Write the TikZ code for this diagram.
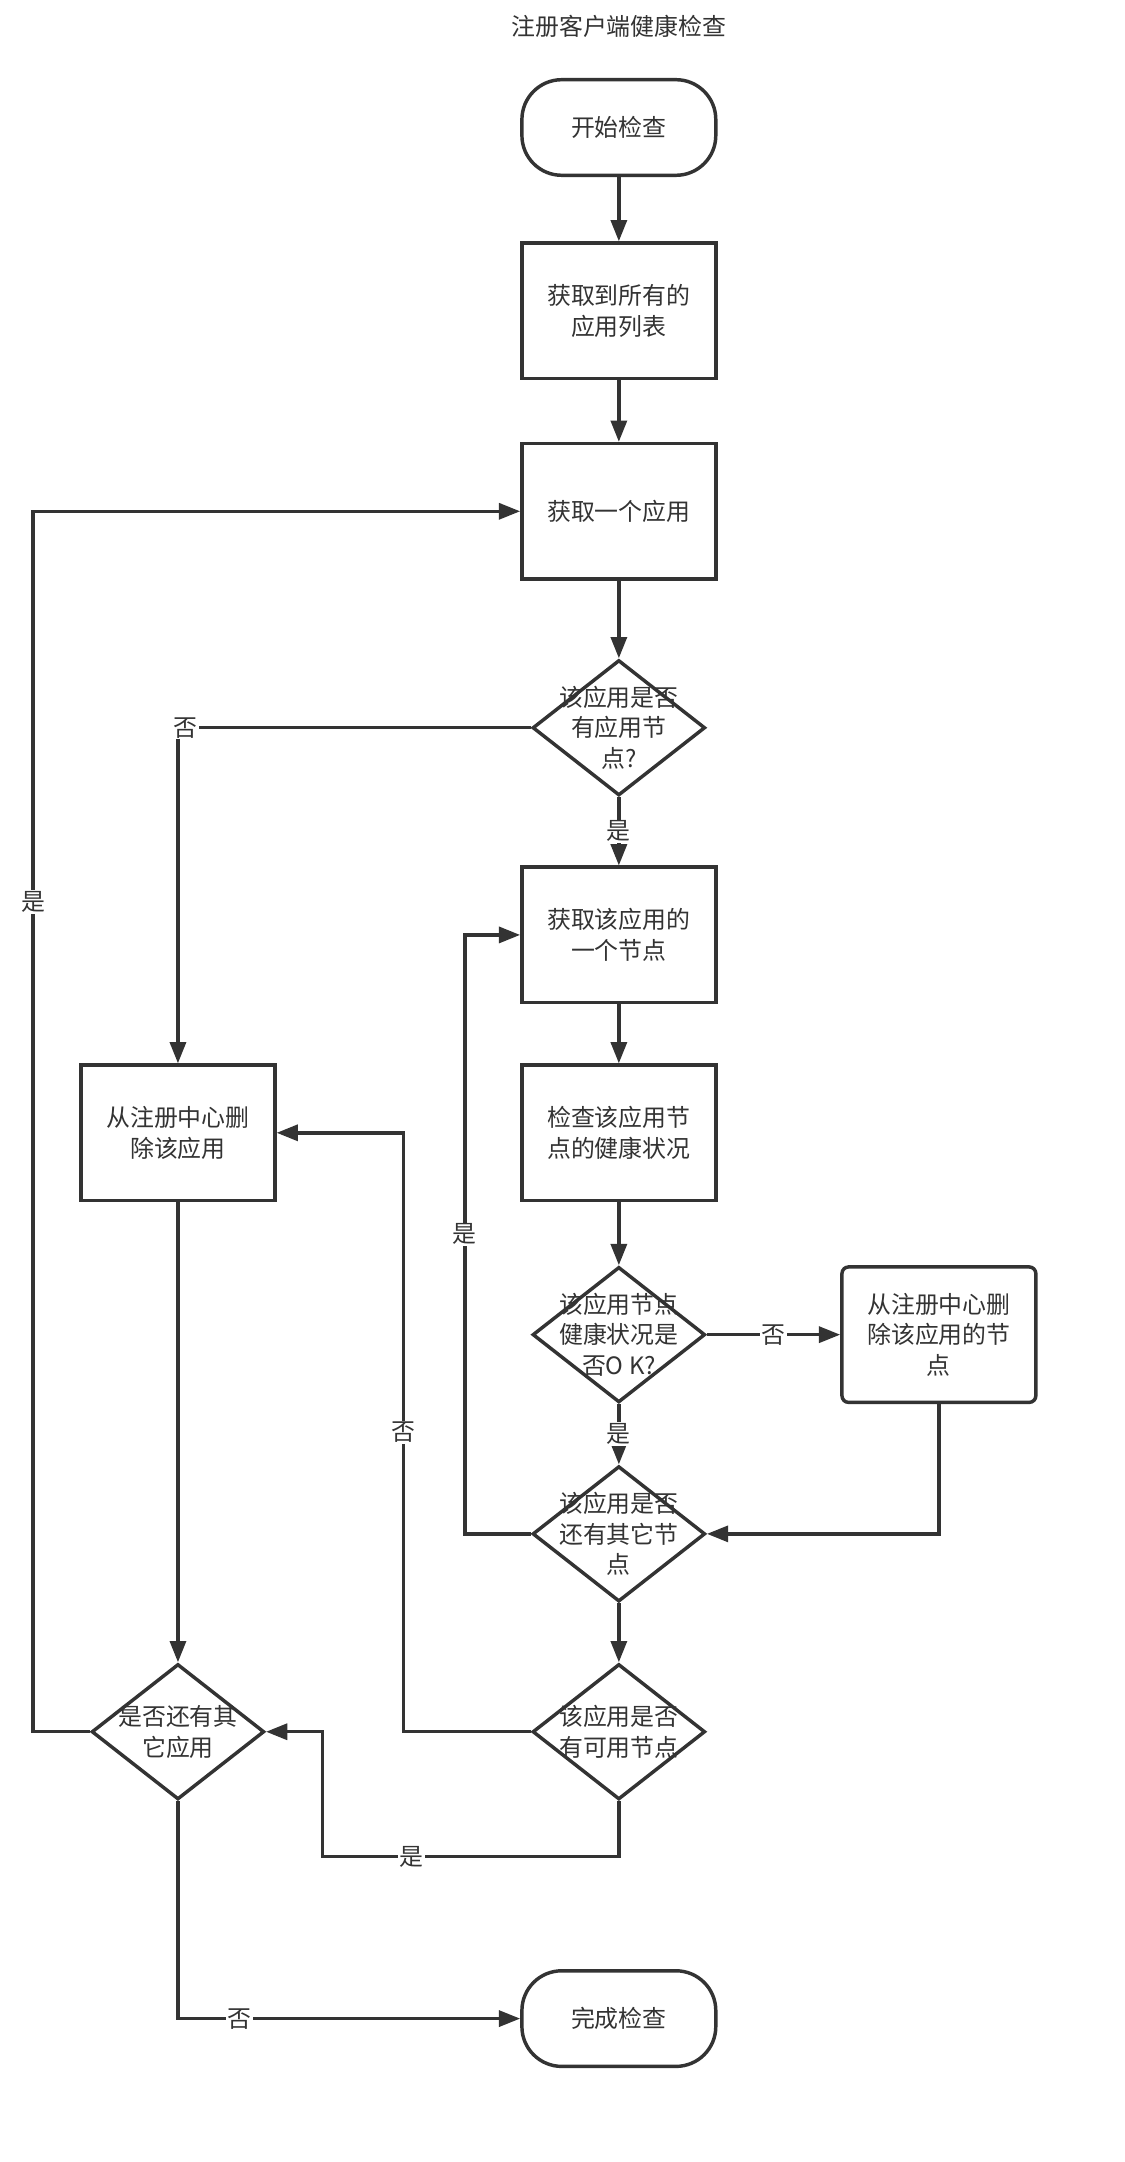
\documentclass[tikz,border=0pt]{standalone}
\usepackage{fontspec}
\setmainfont{Noto Sans CJK SC}
\usetikzlibrary{shapes.geometric,arrows.meta}
\definecolor{ln}{HTML}{333333}
\begin{document}
\begin{tikzpicture}[x=1pt,y=-1pt,
 every node/.style={font=\fontsize{18}{23}\selectfont,text=ln},
 box/.style={draw=ln,line width=2.6pt,minimum width=146pt,minimum height=102pt,inner sep=2pt,align=center,text width=120pt},
 term/.style={draw=ln,line width=2.6pt,minimum width=146pt,minimum height=72pt,rounded corners=30pt},
 dia/.style={draw=ln,line width=2.6pt,diamond,minimum width=130pt,minimum height=102pt,inner sep=0pt},
 dtext/.style={align=center},
 ar/.style={draw=ln,line width=2.6pt,-{Triangle[length=16pt,width=12pt]}},
 lab/.style={fill=white,inner sep=1pt}]
\useasboundingbox (0,0) rectangle (847,1628);
\node (title) at (466,20) {注册客户端健康检查};
\node[term] (start) at (466,96) {开始检查};
\node[box] (b1) at (466,234) {获取到所有的\\应用列表};
\node[box] (b2) at (466,385) {获取一个应用};
\node[dia] (d1) at (466,548) {};
\node[dtext] (t1) at (d1) {该应用是否\\有应用节\\点?};
\node[box] (b3) at (466,704) {获取该应用的\\一个节点};
\node[box] (b4) at (466,853) {检查该应用节\\点的健康状况};
\node[dia] (d2) at (466,1005) {};
\node[dtext] (t2) at (d2) {该应用节点\\健康状况是\\否O K?};
\node[box,rounded corners=5pt] (br) at (707,1005) {从注册中心删\\除该应用的节\\点};
\node[dia] (d3) at (466,1155) {};
\node[dtext] (t3) at (d3) {该应用是否\\还有其它节\\点};
\node[dia] (d4) at (466,1304) {};
\node[dtext] (t4) at (d4) {该应用是否\\有可用节点};
\node[box] (bl) at (134,853) {从注册中心删\\除该应用};
\node[dia] (dl) at (134,1304) {};
\node[dtext] (tl) at (dl) {是否还有其\\它应用};
\node[term] (end) at (466,1520) {完成检查};
\draw[ar] (start) -- (b1);
\draw[ar] (b1) -- (b2);
\draw[ar] (b2) -- (d1);
\draw[ar] (d1) -- node[lab,pos=0.5]{是} (b3);
\draw[ar] (d1.west) -- (134,548) node[lab,xshift=6pt]{否} -- (bl.north);
\draw[ar] (b3) -- (b4);
\draw[ar] (b4) -- (d2);
\draw[ar] (d2.east) -- node[lab]{否} (br.west);
\draw[ar] (d2) -- node[lab]{是} (d3);
\draw[ar] (br.south) |- (d3.east);
\draw[ar] (d3.west) -- (350,1155) -- node[lab]{是} (350,704) -- (b3.west);
\draw[ar] (d3) -- (d4);
\draw[ar] (d4.west) -- (304,1304) -- node[lab]{否} (304,853) -- (bl.east);
\draw[ar] (d4.south) -- (466,1398) -- node[lab,pos=0.7]{是} (243,1398) -- (243,1304) -- (dl.east);
\draw[ar] (bl) -- (dl);
\draw[ar] (dl.west) -- (25,1304) -- node[lab,pos=0.68]{是} (25,385) -- (b2.west);
\draw[ar] (dl.south) -- (134,1520) -- node[lab,pos=0.18]{否} (end.west);
\end{tikzpicture}
\end{document}
